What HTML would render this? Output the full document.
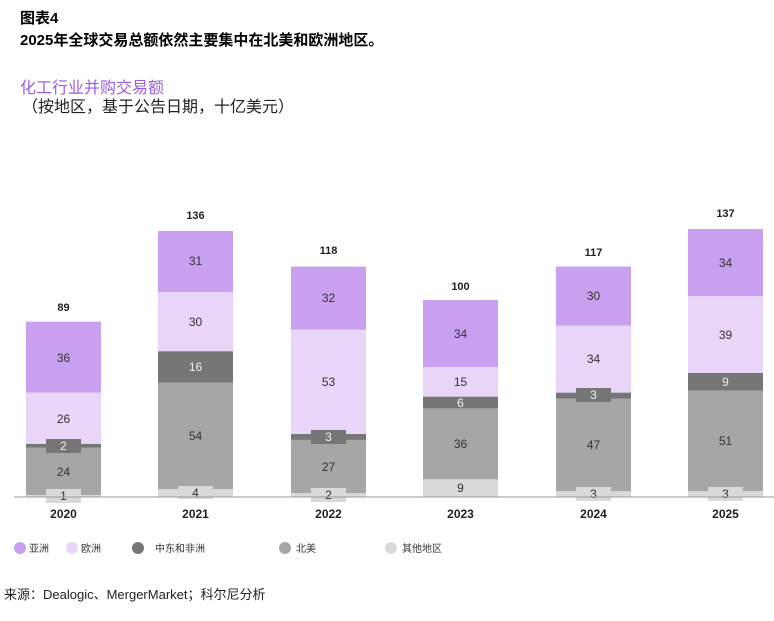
<!DOCTYPE html>
<html><head><meta charset="utf-8"><style>
body{margin:0;width:774px;height:616px;background:#fff;overflow:hidden;font-family:"Liberation Sans","Noto Sans CJK SC",sans-serif}
</style></head><body>
<svg width="774" height="616" xmlns="http://www.w3.org/2000/svg" font-family="Liberation Sans, Noto Sans CJK SC, sans-serif">
<text x="20" y="23" font-size="15" font-weight="bold" fill="#000">图表4</text>
<text x="20" y="45" font-size="15" font-weight="bold" fill="#000">2025年全球交易总额依然主要集中在北美和欧洲地区。</text>
<text x="20" y="93" font-size="16" fill="#9b5de5">化工行业并购交易额</text>
<text x="22" y="112" font-size="16" fill="#222">（按地区，基于公告日期，十亿美元）</text>
<g font-size="12" fill="#333" text-anchor="middle">
<!-- 2020 -->
<rect x="26" y="495" width="75" height="2" fill="#d9d9d9"/>
<rect x="26" y="447.7" width="75" height="47.3" fill="#a6a6a6"/>
<rect x="26" y="443.8" width="75" height="3.9" fill="#767676"/>
<rect x="26" y="392.6" width="75" height="51.2" fill="#e8d5f8"/>
<rect x="26" y="321.7" width="75" height="70.9" fill="#c9a0f0"/>
<rect x="46" y="489" width="35" height="14" fill="#d9d9d9"/>
<rect x="46" y="439" width="35" height="14" fill="#767676"/>
<text x="63.5" y="500">1</text><text x="63.5" y="476">24</text><text x="63.5" y="450" fill="#eee">2</text><text x="63.5" y="423">26</text><text x="63.5" y="362">36</text>
<text x="63.5" y="311" font-weight="bold" font-size="11" fill="#222">89</text>
<!-- 2021 -->
<rect x="158" y="489.1" width="75" height="7.9" fill="#d9d9d9"/>
<rect x="158" y="382.7" width="75" height="106.4" fill="#a6a6a6"/>
<rect x="158" y="351.2" width="75" height="31.5" fill="#767676"/>
<rect x="158" y="292.1" width="75" height="59.1" fill="#e8d5f8"/>
<rect x="158" y="231" width="75" height="61.1" fill="#c9a0f0"/>
<rect x="178" y="486" width="35" height="13" fill="#d9d9d9"/>
<text x="195.5" y="497">4</text><text x="195.5" y="440">54</text><text x="195.5" y="371" fill="#eee">16</text><text x="195.5" y="326">30</text><text x="195.5" y="265">31</text>
<text x="195.5" y="219" font-weight="bold" font-size="11" fill="#222">136</text>
<!-- 2022 -->
<rect x="291" y="493.1" width="75" height="3.9" fill="#d9d9d9"/>
<rect x="291" y="439.9" width="75" height="53.2" fill="#a6a6a6"/>
<rect x="291" y="434" width="75" height="5.9" fill="#767676"/>
<rect x="291" y="329.6" width="75" height="104.4" fill="#e8d5f8"/>
<rect x="291" y="266.6" width="75" height="63" fill="#c9a0f0"/>
<rect x="311" y="488" width="35" height="14" fill="#d9d9d9"/>
<rect x="311" y="430" width="35" height="14" fill="#767676"/>
<text x="328.5" y="499">2</text><text x="328.5" y="471">27</text><text x="328.5" y="441" fill="#eee">3</text><text x="328.5" y="386">53</text><text x="328.5" y="302">32</text>
<text x="328.5" y="254" font-weight="bold" font-size="11" fill="#222">118</text>
<!-- 2023 -->
<rect x="423" y="479.3" width="75" height="17.7" fill="#d9d9d9"/>
<rect x="423" y="408.4" width="75" height="70.9" fill="#a6a6a6"/>
<rect x="423" y="396.6" width="75" height="11.8" fill="#767676"/>
<rect x="423" y="367" width="75" height="29.6" fill="#e8d5f8"/>
<rect x="423" y="300" width="75" height="67" fill="#c9a0f0"/>
<text x="460.5" y="492">9</text><text x="460.5" y="448">36</text><text x="460.5" y="407" fill="#eee">6</text><text x="460.5" y="386">15</text><text x="460.5" y="338">34</text>
<text x="460.5" y="290" font-weight="bold" font-size="11" fill="#222">100</text>
<!-- 2024 -->
<rect x="556" y="491.1" width="75" height="5.9" fill="#d9d9d9"/>
<rect x="556" y="398.5" width="75" height="92.6" fill="#a6a6a6"/>
<rect x="556" y="392.6" width="75" height="5.9" fill="#767676"/>
<rect x="556" y="325.6" width="75" height="67" fill="#e8d5f8"/>
<rect x="556" y="266.5" width="75" height="59.1" fill="#c9a0f0"/>
<rect x="576" y="487" width="35" height="14" fill="#d9d9d9"/>
<rect x="576" y="388" width="35" height="14" fill="#767676"/>
<text x="593.5" y="498">3</text><text x="593.5" y="449">47</text><text x="593.5" y="399" fill="#eee">3</text><text x="593.5" y="363">34</text><text x="593.5" y="300">30</text>
<text x="593.5" y="256" font-weight="bold" font-size="11" fill="#222">117</text>
<!-- 2025 -->
<rect x="688" y="491.1" width="75" height="5.9" fill="#d9d9d9"/>
<rect x="688" y="390.6" width="75" height="100.5" fill="#a6a6a6"/>
<rect x="688" y="372.9" width="75" height="17.7" fill="#767676"/>
<rect x="688" y="296.1" width="75" height="76.8" fill="#e8d5f8"/>
<rect x="688" y="229.1" width="75" height="67" fill="#c9a0f0"/>
<rect x="708" y="487" width="35" height="14" fill="#d9d9d9"/>
<text x="725.5" y="498">3</text><text x="725.5" y="445">51</text><text x="725.5" y="386" fill="#eee">9</text><text x="725.5" y="339">39</text><text x="725.5" y="267">34</text>
<text x="725.5" y="217" font-weight="bold" font-size="11" fill="#222">137</text>
</g>
<line x1="14" y1="497" x2="774" y2="497" stroke="#999" stroke-width="1"/>
<g font-size="12" font-weight="bold" fill="#222" text-anchor="middle">
<text x="63.5" y="518">2020</text><text x="195.5" y="518">2021</text><text x="328.5" y="518">2022</text><text x="460.5" y="518">2023</text><text x="593.5" y="518">2024</text><text x="725.5" y="518">2025</text>
</g>
<g font-size="10" fill="#333">
<circle cx="20" cy="548" r="6" fill="#c9a0f0"/><text x="29" y="552">亚洲</text>
<circle cx="72" cy="548" r="6" fill="#e8d5f8"/><text x="81" y="552">欧洲</text>
<circle cx="138" cy="548" r="6" fill="#767676"/><text x="155" y="552">中东和非洲</text>
<circle cx="285" cy="548" r="6" fill="#a6a6a6"/><text x="296" y="552">北美</text>
<circle cx="391" cy="548" r="6" fill="#d9d9d9"/><text x="402" y="552">其他地区</text>
</g>
<text x="4" y="599" font-size="13" fill="#222">来源：Dealogic、MergerMarket；科尔尼分析</text>
</svg>
</body></html>
